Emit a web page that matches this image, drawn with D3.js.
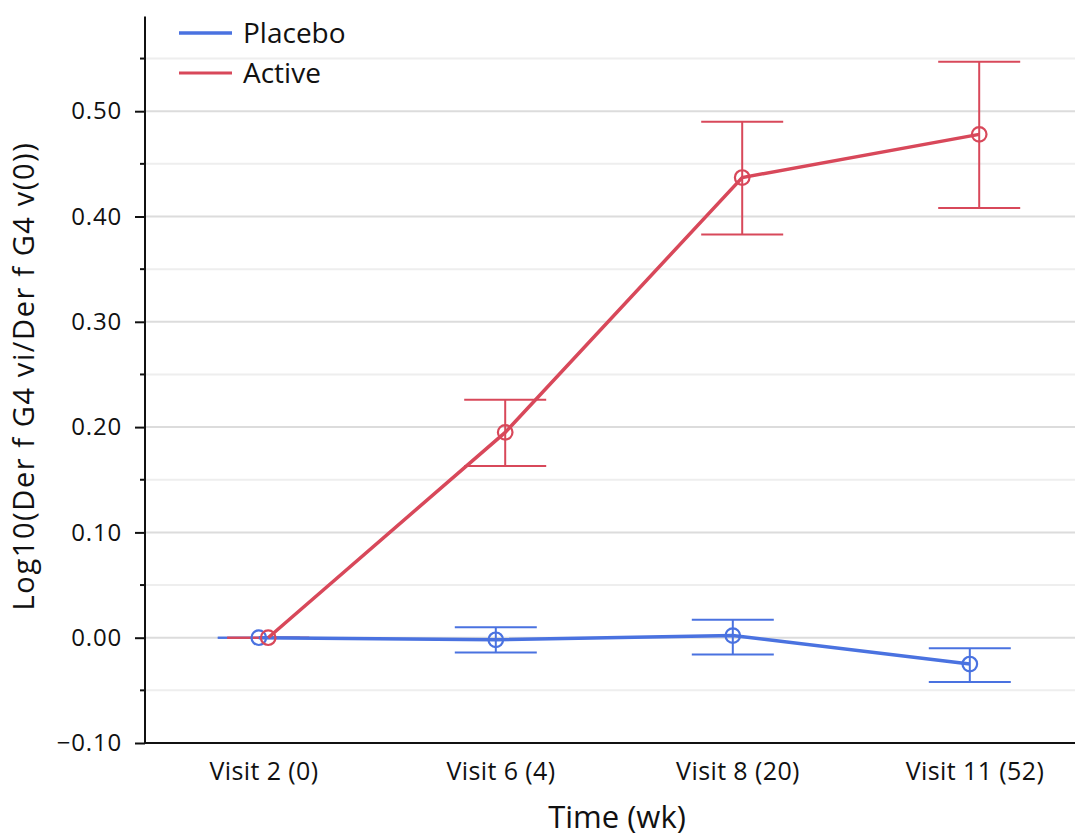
<!DOCTYPE html>
<html>
<head>
<meta charset="utf-8">
<script src="https://cdn.jsdelivr.net/npm/d3@7"></script>
<style>
  body { margin: 0; background: #fff; }
  text { font-family: 'Open Sans', 'Noto Sans', sans-serif; fill: #111; }
</style>
</head>
<body>
<svg id="chart" width="1075" height="837"></svg>
<script>
const visits = ['Visit 2 (0)', 'Visit 6 (4)', 'Visit 8 (20)', 'Visit 11 (52)']

const placeboMean = [0.000, -0.002, 0.002, -0.025]
const placeboLow = [0.000, -0.014, -0.016, -0.042]
const placeboHigh = [0.000, 0.010, 0.017, -0.010]

const activeMean = [0.000, 0.195, 0.437, 0.478]
const activeLow = [0.000, 0.163, 0.383, 0.408]
const activeHigh = [0.000, 0.226, 0.490, 0.547]

const majorTicks = [-0.1, 0, 0.1, 0.2, 0.3, 0.4, 0.5]
const minorTicks = [-0.05, 0.05, 0.15, 0.25, 0.35, 0.45, 0.55]

const series = [
    { name: 'Placebo', color: '#4a72e0', offset: -4.7, mean: placeboMean, low: placeboLow, high: placeboHigh },
    { name: 'Active', color: '#d8485a', offset: 4.7, mean: activeMean, low: activeLow, high: activeHigh }
]

const svg = d3.select('#chart')
const left = 145
const bottom = 743

const x = d3.scalePoint()
    .domain(visits)
    .range([left, left + 948])
    .padding(0.5)

const y = d3.scaleLinear()
    .domain([-0.1, 0.59])
    .range([bottom, bottom - 0.69 * 1053])

// grid
svg.append('g')
    .selectAll('line')
    .data(minorTicks)
    .join('line')
    .attr('x1', left).attr('x2', 1075)
    .attr('y1', d => y(d)).attr('y2', d => y(d))
    .attr('stroke', '#eeeeee').attr('stroke-width', 2)

svg.append('g')
    .selectAll('line')
    .data(majorTicks.filter(d => d > -0.1))
    .join('line')
    .attr('x1', left).attr('x2', 1075)
    .attr('y1', d => y(d)).attr('y2', d => y(d))
    .attr('stroke', '#dcdcdc').attr('stroke-width', 2)

// y axis
const yAxis = svg.append('g')
    .attr('transform', `translate(${left},0)`)
    .call(d3.axisLeft(y).tickValues(majorTicks).tickSize(10).tickPadding(13)
        .tickFormat(d => (d < 0 ? '\u2212' : '') + Math.abs(d).toFixed(2)))
yAxis.select('.domain').attr('stroke', '#111').attr('stroke-width', 2)
    .attr('d', `M0,${y(0.59)}V${bottom}`)
yAxis.selectAll('.tick line').attr('stroke', '#111').attr('stroke-width', 2)
yAxis.selectAll('.tick text')
    .style('font-size', '24px')
    .style('letter-spacing', '0.8px')
    .attr('fill', '#111')

svg.append('g')
    .selectAll('line')
    .data(minorTicks)
    .join('line')
    .attr('x1', left - 5).attr('x2', left)
    .attr('y1', d => y(d)).attr('y2', d => y(d))
    .attr('stroke', '#111').attr('stroke-width', 2)

// x axis
const xAxis = svg.append('g')
    .attr('transform', `translate(0,${bottom})`)
    .call(d3.axisBottom(x).tickSize(0).tickPadding(19))
xAxis.select('.domain').attr('stroke', '#111').attr('stroke-width', 2)
    .attr('d', `M${left},0H1075`)
xAxis.selectAll('.tick text')
    .style('font-size', '25px')
    .style('letter-spacing', '0.4px')
    .attr('fill', '#111')

// axis titles
svg.append('text')
    .attr('x', 617).attr('y', 828)
    .attr('text-anchor', 'middle')
    .style('font-size', '31px')
    .text('Time (wk)')

svg.append('text')
    .attr('transform', `translate(34,376) rotate(-90)`)
    .attr('text-anchor', 'middle')
    .style('font-size', '29px')
    .style('letter-spacing', '1.6px')
    .text('Log10(Der f G4 vi/Der f G4 v(0))')

// error bars
const capHalf = 41
series.forEach(s => {
    const g = svg.append('g').attr('stroke', s.color).attr('stroke-width', 2).attr('fill', 'none')
    visits.forEach((v, i) => {
        const cx = x(v) + s.offset
        g.append('line')
            .attr('x1', cx).attr('x2', cx)
            .attr('y1', y(s.low[i])).attr('y2', y(s.high[i]))
        g.append('line')
            .attr('x1', cx - capHalf).attr('x2', cx + capHalf)
            .attr('y1', y(s.low[i])).attr('y2', y(s.low[i]))
        g.append('line')
            .attr('x1', cx - capHalf).attr('x2', cx + capHalf)
            .attr('y1', y(s.high[i])).attr('y2', y(s.high[i]))
    })
})

// lines and markers
const line = d3.line()
series.forEach(s => {
    const pts = visits.map((v, i) => [x(v) + s.offset, y(s.mean[i])])
    svg.append('path')
        .attr('d', line(pts))
        .attr('fill', 'none')
        .attr('stroke', s.color)
        .attr('stroke-width', 3.5)
    svg.append('g')
        .selectAll('circle')
        .data(pts)
        .join('circle')
        .attr('cx', d => d[0]).attr('cy', d => d[1])
        .attr('r', 7.3)
        .attr('fill', 'none')
        .attr('stroke', s.color)
        .attr('stroke-width', 2.2)
})

// legend
const legend = svg.append('g')
series.forEach((s, i) => {
    const ly = 33 + i * 40
    legend.append('line')
        .attr('x1', 179).attr('x2', 232)
        .attr('y1', ly).attr('y2', ly)
        .attr('stroke', s.color).attr('stroke-width', i === 0 ? 3.5 : 3)
    legend.append('text')
        .attr('x', 243).attr('y', ly)
        .attr('dy', '0.35em')
        .style('font-size', '28px')
        .text(s.name)
})
</script>
</body>
</html>
